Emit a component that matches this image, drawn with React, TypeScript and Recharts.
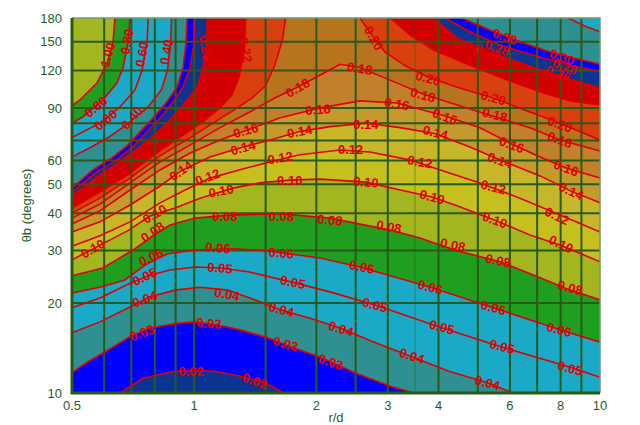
import { ScatterChart, Scatter, XAxis, YAxis, Label } from "recharts";

type Pt = [number, number];

const X_MIN = 0.5;
const X_MAX = 10;
const Y_MIN = 10;
const Y_MAX = 180;

const xTicks = [0.5, 1, 2, 3, 4, 6, 8, 10];
const yTicks = [10, 20, 30, 40, 50, 60, 90, 120, 150, 180];
const xGridValues = [0.6, 0.7, 0.8, 0.9, 1, 1.5, 2, 2.5, 3, 4, 5, 6, 7, 8, 9];
const yGridValues = [20, 30, 40, 50, 60, 70, 80, 90, 120, 150];
const xFaintGrid = [3.5];

// contour lines as (r/d, theta_b)
const c002: Pt[] = [[0.656, 10], [0.748, 11.2], [0.887, 11.8], [1.006, 11.85], [1.113, 11.85], [1.29, 11.4], [1.5, 10.8], [1.66, 10]];
const c003: Pt[] = [[0.5, 11.7], [0.546, 12.7], [0.613, 13.9], [0.698, 15.5], [0.778, 16.5], [0.908, 17.1], [1.006, 17.3], [1.14, 16.9], [1.29, 16.3], [1.52, 15.3], [1.72, 14.3], [2.04, 13.2], [2.56, 11.5], [3.07, 10.5], [3.47, 10]];
const c004: Pt[] = [[0.5, 15.9], [0.586, 17.3], [0.695, 19.4], [0.778, 21.0], [0.897, 22.1], [1.034, 22.6], [1.21, 22.1], [1.41, 20.5], [1.63, 19.0], [1.93, 17.8], [2.29, 16.5], [2.71, 15.0], [3.4, 13.3], [4.26, 11.8], [5.31, 10.8], [6.1, 10]];
const c005: Pt[] = [[0.5, 19.3], [0.586, 20.8], [0.695, 23.3], [0.778, 24.8], [0.872, 25.8], [1.006, 26.4], [1.158, 26.2], [1.37, 25.4], [1.74, 23.5], [2.16, 21.8], [2.79, 19.7], [4.04, 16.6], [5.67, 14.3], [8.44, 12.2], [10, 11.3]];
const c006: Pt[] = [[0.5, 21.6], [0.586, 22.6], [0.675, 23.9], [0.756, 26.8], [0.857, 29.2], [1.006, 30.1], [1.245, 30.4], [1.52, 29.9], [2.04, 28.3], [2.56, 26.4], [3.82, 22.6], [5.46, 19.3], [7.93, 16.3], [10, 14.8]];
const c008: Pt[] = [[0.5, 24.7], [0.596, 26.2], [0.707, 30.1], [0.792, 33.6], [0.872, 36.5], [1.006, 38.5], [1.226, 39.4], [1.63, 39.8], [2.16, 38.5], [3.04, 35.1], [3.6, 33.0], [4.38, 30.1], [5.67, 27.5], [7.12, 24.3], [8.44, 22.1], [10, 20.5]];
const c010: Pt[] = [[0.5, 27.9], [0.606, 32.0], [0.69, 35.1], [0.778, 39.1], [0.897, 41.6], [1.034, 44.9], [1.245, 48.5], [1.45, 50.5], [1.72, 51.6], [2.04, 52.0], [2.65, 50.8], [3.22, 47.8], [3.86, 45.3], [4.51, 42.0], [5.51, 37.9], [6.72, 33.8], [7.97, 31.3], [10, 27.5]];
const c012: Pt[] = [[0.5, 31.0], [0.586, 33.6], [0.695, 37.4], [0.824, 43.3], [0.95, 47.8], [1.094, 52.4], [1.29, 55.8], [1.54, 59.4], [1.82, 62.7], [2.29, 65.1], [2.71, 64.1], [3.4, 60.3], [4.04, 55.8], [5.06, 50.5], [6.35, 44.9], [7.97, 39.4], [10, 34.6]];
const c014: Pt[] = [[0.5, 34.6], [0.586, 37.4], [0.695, 42.6], [0.824, 49.3], [0.928, 55.4], [1.094, 61.7], [1.32, 66.6], [1.54, 70.3], [1.82, 75.0], [2.16, 77.9], [2.65, 80.0], [3.22, 77.3], [3.93, 73.8], [4.78, 66.6], [5.67, 60.3], [7.12, 53.3], [8.49, 47.4], [10, 43.3]];
const c016: Pt[] = [[0.5, 36.8], [0.586, 40.7], [0.695, 47.8], [0.824, 55.8], [0.978, 63.6], [1.158, 70.3], [1.34, 75.6], [1.63, 83.4], [2.04, 90.0], [2.56, 95.0], [3.16, 93.5], [4.15, 84.6], [5.06, 77.3], [6.06, 68.2], [7.12, 61.7], [8.25, 56.6], [10, 52.4]];
const c018: Pt[] = [[0.5, 38.5], [0.586, 42.9], [0.695, 50.5], [0.824, 59.4], [0.978, 67.7], [1.158, 77.3], [1.37, 87.2], [1.58, 97.2], [1.8, 105.8], [2.04, 115.8], [2.29, 126], [2.56, 123], [3.04, 111.5], [3.66, 100.2], [4.51, 91.5], [5.51, 84.1], [6.72, 77.3], [7.97, 70.3], [10, 64.6]];
const c020a: Pt[] = [[0.5, 40.0], [0.586, 44.9], [0.695, 52.4], [0.824, 62.2], [0.978, 71.6], [1.125, 80.8], [1.258, 88.8], [1.39, 97.2], [1.5, 107], [1.58, 125], [1.65, 152], [1.68, 180]];
const c020b: Pt[] = [[2.56, 180], [2.74, 158], [2.95, 138.5], [3.3, 125], [3.77, 114], [4.51, 105], [5.46, 97.2], [6.72, 87.2], [7.97, 80], [10, 70.3]];
const c022a: Pt[] = [[0.5, 41.6], [0.586, 47.1], [0.687, 53.7], [0.778, 61.2], [0.872, 68.2], [0.978, 75.6], [1.064, 82], [1.158, 90], [1.238, 99.4], [1.29, 114], [1.33, 140.7], [1.34, 180]];
const c022b: Pt[] = [[3.04, 180], [3.4, 158], [3.89, 140.7], [4.78, 125], [5.67, 114], [7.12, 101.8], [8.44, 95], [10, 92]];
const c026a: Pt[] = [[0.5, 45.7], [0.586, 53.7], [0.656, 59.4], [0.735, 66.6], [0.824, 76], [0.897, 85.3], [0.961, 95.7], [1.017, 105.8], [1.052, 123], [1.076, 149], [1.076, 180]];
const c026b: Pt[] = [[3.89, 180], [4.45, 154], [5.37, 138.5], [6.72, 124], [8.44, 112.5], [10, 105]];
const c028a: Pt[] = [[0.5, 47.1], [0.576, 55], [0.645, 60.3], [0.715, 67.7], [0.77, 75.6], [0.833, 84.6], [0.887, 94.4], [0.939, 105.8], [0.978, 123], [1.0, 149], [1.006, 180]];
const c028b: Pt[] = [[4.15, 180], [4.78, 162], [5.67, 146], [7.12, 133], [8.44, 125], [10, 119]];
const c030a: Pt[] = [[0.5, 48.5], [0.563, 55.8], [0.627, 61.2], [0.687, 67.7], [0.744, 76], [0.805, 85.3], [0.857, 94.4], [0.908, 105.8], [0.939, 123], [0.955, 149], [0.961, 180]];
const c030b: Pt[] = [[4.56, 180], [5.36, 164], [6.35, 150], [7.53, 138.5], [8.68, 132], [10, 126]];
const c040a: Pt[] = [[0.5, 61.7], [0.554, 66.2], [0.62, 72.2], [0.69, 80.2], [0.77, 90.7], [0.83, 103.4], [0.86, 120.6], [0.875, 149], [0.88, 180]];
const c040b: Pt[] = [[8.35, 180], [9.19, 169], [10, 162]];
const c060: Pt[] = [[0.5, 71.6], [0.586, 80.2], [0.656, 90.7], [0.715, 103.4], [0.744, 120.6], [0.766, 152], [0.77, 180]];
const c080: Pt[] = [[0.5, 80], [0.532, 84.1], [0.596, 95.7], [0.645, 109], [0.668, 123], [0.687, 149], [0.695, 180]];
const c100: Pt[] = [[0.5, 91.5], [0.523, 95.7], [0.576, 109], [0.61, 127], [0.631, 149], [0.638, 180]];

// band edges, highest level first
const filledLevels: { level: string; branches: Pt[][] }[] = [
  { level: "1.00", branches: [c100] },
  { level: "0.80", branches: [c080] },
  { level: "0.40", branches: [c040a, c040b] },
  { level: "0.30", branches: [c030a, c030b] },
  { level: "0.28", branches: [c028a, c028b] },
  { level: "0.26", branches: [c026a, c026b] },
  { level: "0.22", branches: [c022a, c022b] },
  { level: "0.20", branches: [c020a, c020b] },
  { level: "0.18", branches: [c018] },
  { level: "0.16", branches: [c016] },
  { level: "0.14", branches: [c014] },
  { level: "0.12", branches: [c012] },
  { level: "0.10", branches: [c010] },
  { level: "0.08", branches: [c008] },
  { level: "0.06", branches: [c006] },
  { level: "0.04", branches: [c004] },
  { level: "0.03", branches: [c003] },
  { level: "0.02", branches: [c002] },
];
const lineOnlyLevels: { level: string; branches: Pt[][] }[] = [
  { level: "0.60", branches: [c060] },
  { level: "0.05", branches: [c005] },
];

// [text, r/d, theta_b, rotation]
const contourLabels: [string, number, number, number][] = [
  ["0.02", 0.983, 11.8, 0], ["0.02", 1.41, 10.97, 20],
  ["0.03", 0.744, 15.9, -20], ["0.03", 1.088, 17.1, 5], ["0.03", 1.68, 14.6, 15], ["0.03", 2.17, 12.7, 20],
  ["0.04", 0.756, 20.6, -20], ["0.04", 1.205, 21.4, 10], ["0.04", 1.64, 19.0, 15], ["0.04", 2.3, 16.4, 18], ["0.04", 3.44, 13.3, 18], ["0.04", 5.28, 10.8, 15],
  ["0.05", 0.756, 24.5, -25], ["0.05", 1.158, 26.2, 5], ["0.05", 1.75, 23.5, 12], ["0.05", 2.79, 19.7, 15], ["0.05", 4.08, 16.6, 15], ["0.05", 5.74, 14.3, 15], ["0.05", 8.44, 12.1, 15],
  ["0.06", 0.783, 28.5, -25], ["0.06", 1.145, 30.6, 5], ["0.06", 1.64, 29.4, 5], ["0.06", 2.59, 26.4, 12], ["0.06", 3.82, 22.6, 15], ["0.06", 5.46, 19.3, 15], ["0.06", 7.93, 16.3, 15],
  ["0.08", 0.79, 34.6, -35], ["0.08", 1.19, 39.1, 0], ["0.08", 1.64, 39.1, 0], ["0.08", 2.16, 37.9, 5], ["0.08", 3.02, 36, 10], ["0.08", 4.34, 31.3, 12], ["0.08", 5.61, 27.7, 12], ["0.08", 8.44, 22.5, 15],
  ["0.10", 0.563, 30.4, -30], ["0.10", 0.8, 39.7, -30], ["0.10", 1.165, 47.4, -10], ["0.10", 1.72, 51.6, 0], ["0.10", 2.65, 50.8, 5], ["0.10", 3.86, 45.3, 15], ["0.10", 5.51, 37.9, 20], ["0.10", 8.02, 31.5, 25],
  ["0.12", 1.08, 52.8, -20], ["0.12", 1.63, 61.2, -10], ["0.12", 2.43, 65.1, 0], ["0.12", 3.6, 59.4, 10], ["0.12", 5.46, 48.9, 15], ["0.12", 7.84, 39.1, 25],
  ["0.14", 0.928, 55.4, -35], ["0.14", 1.32, 66.2, -15], ["0.14", 1.82, 75, -10], ["0.14", 2.65, 79.2, 0], ["0.14", 3.93, 74.4, 15], ["0.14", 5.67, 60, 20], ["0.14", 8.49, 47.4, 25],
  ["0.16", 1.34, 75.6, -15], ["0.16", 2.02, 88.8, -5], ["0.16", 3.16, 92.8, 10], ["0.16", 4.15, 84.1, 20], ["0.16", 6.06, 67.7, 20], ["0.16", 8.25, 56.6, 20],
  ["0.18", 1.8, 105, -30], ["0.18", 2.56, 122, 10], ["0.18", 3.66, 99.4, 15], ["0.18", 5.51, 85.3, 15], ["0.18", 7.97, 70.3, 20],
  ["0.20", 2.77, 154, 60], ["0.20", 3.77, 113, 15], ["0.20", 5.46, 97.2, 15], ["0.20", 7.97, 79.2, 20],
  ["0.22", 1.34, 140.7, 80],
  ["0.26", 1.064, 143, 80], ["0.26", 5.28, 138.5, 20], ["0.26", 7.88, 117, 20],
  ["0.28", 5.57, 143, 20], ["0.28", 8.2, 124, 20],
  ["0.30", 5.83, 155.5, 20], ["0.30", 8.06, 133, 20],
  ["1.00", 0.613, 135.4, -75],
  ["0.80", 0.684, 150, -80], ["0.80", 0.573, 90.7, -40],
  ["0.60", 0.744, 136, -80], ["0.60", 0.606, 82, -40],
  ["0.40", 0.855, 138.5, -80], ["0.40", 0.703, 83.4, -50],
];

// colour of the band just below each level
const topColor = "#a3b51f";
const bandColor: Record<string, string> = {
  "1.00": "#1f9f1f",
  "0.80": "#1aaac8",
  "0.40": "#2e9090",
  "0.30": "#0000ff",
  "0.28": "#0c3490",
  "0.26": "#d20000",
  "0.22": "#d8400e",
  "0.20": "#b8741c",
  "0.18": "#c2802a",
  "0.16": "#c49a2c",
  "0.14": "#c8b62a",
  "0.12": "#c6c01e",
  "0.10": "#a3b51f",
  "0.08": "#1f9f1f",
  "0.06": "#1aaac8",
  "0.04": "#2e9090",
  "0.03": "#0000ff",
  "0.02": "#0c3490",
};
const lineRed = "#e00000";
const gridGreen = "#295a18";
const axisGreen = "#1e5e1e";
const font = "Liberation Sans, Arial, sans-serif";

// region below a contour: walk the frame clockwise back to the start
function belowRegion(branches: Pt[][]): Pt[] {
  const pts = branches.flat();
  const start = pts[0];
  const end = pts[pts.length - 1];
  const out: Pt[] = [...pts];
  if (end[1] >= Y_MAX) out.push([X_MAX, Y_MAX]);
  if (end[1] >= Y_MAX || end[0] >= X_MAX) out.push([X_MAX, Y_MIN]);
  if (start[0] <= X_MIN) out.push([X_MIN, Y_MIN]);
  return out;
}

const rows = (pts: Pt[]) => pts.map(([x, y]) => ({ x, y }));
const NoDot = () => null;

function ContourLabel(props: any) {
  const { cx, cy, payload } = props;
  return (
    <text
      x={cx}
      y={cy}
      transform={`rotate(${payload.angle} ${cx} ${cy})`}
      textAnchor="middle"
      dominantBaseline="central"
      fill={lineRed}
      fontSize={13}
      fontWeight="bold"
      fontFamily={font}
    >
      {payload.text}
    </text>
  );
}

export default function App() {
  const frame: Pt[] = [[X_MIN, Y_MIN], [X_MIN, Y_MAX], [X_MAX, Y_MAX], [X_MAX, Y_MIN]];
  const labelRows = contourLabels.map(([text, x, y, angle]) => ({ x, y, text, angle }));
  const tickStyle = { fill: axisGreen, fontSize: 13, fontFamily: font };

  return (
    <div style={{ position: "absolute", left: 0, top: 0, width: 640, height: 425, background: "#fff" }}>
      <ScatterChart width={640} height={425} margin={{ top: 18, right: 40, bottom: 0, left: 12 }}>
        <XAxis
          type="number"
          dataKey="x"
          scale="log"
          domain={[X_MIN, X_MAX]}
          ticks={xTicks}
          interval={0}
          height={32}
          tickLine={false}
          axisLine={false}
          tickSize={5}
          tickMargin={3}
          tick={tickStyle}
        >
          <Label value="r/d" position="insideBottom" offset={3} fill={axisGreen} fontSize={13} fontFamily={font} />
        </XAxis>
        <YAxis
          type="number"
          dataKey="y"
          scale="log"
          domain={[Y_MIN, Y_MAX]}
          ticks={yTicks}
          interval={0}
          width={60}
          tickLine={false}
          axisLine={false}
          tickSize={6}
          tickMargin={4}
          tick={tickStyle}
        >
          <Label
            value="θb (degrees)"
            angle={-90}
            position="insideLeft"
            offset={14}
            fill={axisGreen}
            fontSize={13}
            fontFamily={font}
            style={{ textAnchor: "middle" }}
          />
        </YAxis>

        <Scatter data={rows(frame)} line={{ fill: topColor, stroke: "none" }} shape={NoDot} isAnimationActive={false} />
        {filledLevels.map((c) => (
          <Scatter
            key={`fill-${c.level}`}
            data={rows(belowRegion(c.branches))}
            line={{ fill: bandColor[c.level], stroke: "none" }}
            shape={NoDot}
            isAnimationActive={false}
          />
        ))}

        {xFaintGrid.map((v) => (
          <Scatter key={`fx-${v}`} data={rows([[v, Y_MIN], [v, Y_MAX]])} line={{ stroke: gridGreen, strokeOpacity: 0.3, strokeWidth: 1.5 }} shape={NoDot} isAnimationActive={false} />
        ))}
        {xGridValues.map((v) => (
          <Scatter key={`gx-${v}`} data={rows([[v, Y_MIN], [v, Y_MAX]])} line={{ stroke: gridGreen, strokeWidth: 2 }} shape={NoDot} isAnimationActive={false} />
        ))}
        {yGridValues.map((v) => (
          <Scatter key={`gy-${v}`} data={rows([[X_MIN, v], [X_MAX, v]])} line={{ stroke: gridGreen, strokeWidth: 2 }} shape={NoDot} isAnimationActive={false} />
        ))}

        {[...filledLevels, ...lineOnlyLevels].flatMap((c) =>
          c.branches.map((b, i) => (
            <Scatter
              key={`line-${c.level}-${i}`}
              data={rows(b)}
              line={{ stroke: lineRed, strokeWidth: 1.6, fill: "none" }}
              shape={NoDot}
              isAnimationActive={false}
            />
          ))
        )}

        <Scatter data={rows([[X_MIN, Y_MAX], [X_MAX, Y_MAX], [X_MAX, Y_MIN]])} line={{ stroke: "#6f9a6f", strokeWidth: 1.5 }} shape={NoDot} isAnimationActive={false} />
        <Scatter data={rows([[X_MIN, Y_MAX], [X_MIN, Y_MIN], [X_MAX, Y_MIN]])} line={{ stroke: gridGreen, strokeWidth: 3 }} shape={NoDot} isAnimationActive={false} />

        <Scatter data={labelRows} shape={ContourLabel} isAnimationActive={false} />
      </ScatterChart>
    </div>
  );
}
